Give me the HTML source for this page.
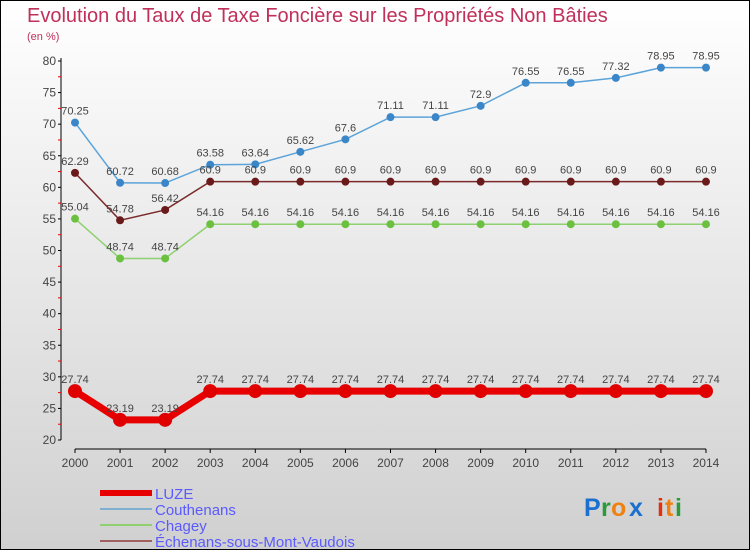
<!DOCTYPE html>
<html><head><meta charset="utf-8"><style>
body{margin:0;padding:0}
svg{display:block}
text{font-family:"Liberation Sans",sans-serif}
</style></head><body>
<svg id="chart" width="750" height="550" xmlns="http://www.w3.org/2000/svg">
<defs><linearGradient id="bg" x1="0" y1="0" x2="0" y2="1"><stop offset="0" stop-color="#ffffff"/><stop offset="1" stop-color="#d0d0d0"/></linearGradient></defs>
<rect x="0.5" y="0.5" width="749" height="549" fill="url(#bg)" stroke="#000"/>
<text x="27" y="22" font-size="20" fill="#c0305a">Evolution du Taux de Taxe Foncière sur les Propriétés Non Bâties</text>
<text x="27" y="40" font-size="11" fill="#c0305a">(en %)</text>
<g id="axes"></g>
<g id="series"></g>
<g id="legend"></g>
<g font-size="25" font-weight="bold">
<text x="584" y="516" fill="#1a6fcf">P</text><text x="601" y="516" fill="#2a9a3a">r</text><text x="611" y="516" fill="#f08010">o</text><text x="629" y="516" fill="#1a6fcf">x</text><text x="657" y="516" fill="#e03010">i</text><text x="665" y="516" fill="#f08010">t</text><text x="675" y="516" fill="#2a9a3a">i</text>
</g>
</svg>
<script>
const years=[2000,2001,2002,2003,2004,2005,2006,2007,2008,2009,2010,2011,2012,2013,2014];
const luze=[27.74,23.19,23.19,27.74,27.74,27.74,27.74,27.74,27.74,27.74,27.74,27.74,27.74,27.74,27.74];
const couthenans=[70.25,60.72,60.68,63.58,63.64,65.62,67.6,71.11,71.11,72.9,76.55,76.55,77.32,78.95,78.95];
const chagey=[55.04,48.74,48.74,54.16,54.16,54.16,54.16,54.16,54.16,54.16,54.16,54.16,54.16,54.16,54.16];
const echenans=[62.29,54.78,56.42,60.9,60.9,60.9,60.9,60.9,60.9,60.9,60.9,60.9,60.9,60.9,60.9];
const yTicks=[20,25,30,35,40,45,50,55,60,65,70,75,80];
const NS="http://www.w3.org/2000/svg";
const X=i=>75+i*45.07;
const Y=v=>440-(v-20)*(379/60);
function mk(p,t,a){const e=document.createElementNS(NS,t);for(const k in a)e.setAttribute(k,a[k]);p.appendChild(e);return e;}
const axes=document.getElementById('axes');
mk(axes,'line',{x1:61,y1:58,x2:61,y2:440,stroke:'#000'});
mk(axes,'line',{x1:75,y1:449,x2:706,y2:449,stroke:'#000'});
yTicks.forEach(v=>{
 mk(axes,'line',{x1:58,y1:Y(v),x2:61,y2:Y(v),stroke:'#000'});
 if(v<80)mk(axes,'line',{x1:58,y1:Y(v+2.5),x2:61,y2:Y(v+2.5),stroke:'#e00'});
 const t=mk(axes,'text',{x:56,y:Y(v)+4,'font-size':12,'text-anchor':'end',fill:'#444'});t.textContent=v;
 
 
});
years.forEach((y,i)=>{
 mk(axes,'line',{x1:X(i),y1:449,x2:X(i),y2:453,stroke:'#000'});
 const t=mk(axes,'text',{x:X(i),y:467,'font-size':12,'text-anchor':'middle',fill:'#444'});t.textContent=y;
 
 
});
const sg=document.getElementById('series');
function draw(vals,color,dot,w,r,name){
 const g=mk(sg,'g',{});
 
 
 mk(g,'polyline',{points:vals.map((v,i)=>X(i)+','+Y(v)).join(' '),fill:'none',stroke:color,'stroke-width':w});
 vals.forEach((v,i)=>{
  const c=mk(g,'circle',{cx:X(i),cy:Y(v),r:r,fill:dot});
  
  
  const t=mk(g,'text',{x:X(i),y:Y(v)-8,'font-size':11,'text-anchor':'middle',fill:'#444'});t.textContent=v;
  
  
 });
}
draw(couthenans,'#5ba3d9','#3a86c8',1.5,4,'couthenans');
draw(echenans,'#7a2a2a','#6a1a1a',1.5,4,'echenans');
draw(chagey,'#8fd070','#6cc040',1.5,4,'chagey');
draw(luze,'#e80000','#e00000',7,7,'luze');
const lg=document.getElementById('legend');
[['LUZE','#e80000',6],['Couthenans','#7fb0d0',2],['Chagey','#90d070',2],['Échenans-sous-Mont-Vaudois','#a06060',2]].forEach((d,i)=>{
 const y=492+i*16;
 const g=mk(lg,'g',{});
 
 
 mk(g,'line',{x1:100,y1:y+1,x2:152,y2:y+1,stroke:d[1],'stroke-width':d[2]});
 const t=mk(g,'text',{x:155,y:y+7,'font-size':15,fill:'#5a5aff'});t.textContent=d[0];
});
</script>
</body></html>
